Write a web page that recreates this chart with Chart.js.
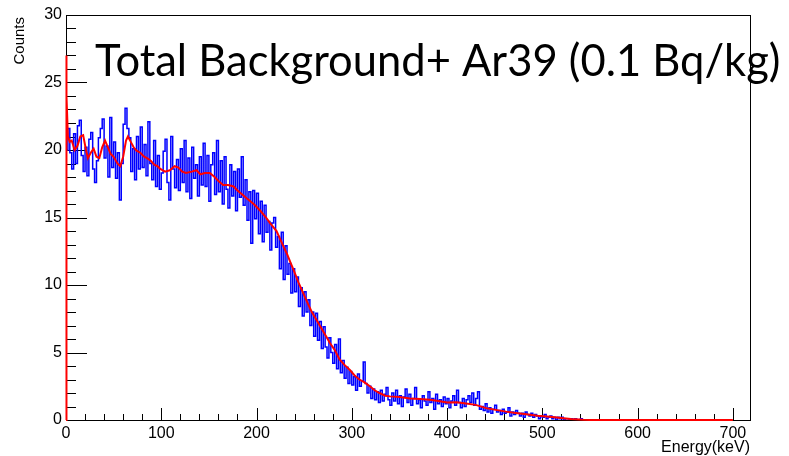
<!DOCTYPE html>
<html>
<head>
<meta charset="utf-8">
<script src="https://cdn.jsdelivr.net/npm/chart.js@4/dist/chart.umd.min.js"></script>
<style>
  html, body { margin: 0; padding: 0; background: #fff; }
</style>
</head>
<body>
<canvas id="spectrum" width="789" height="456"></canvas>
<script>
// histogram: 2 keV bins starting at 0 keV
const binWidth = 2;
const blueCounts = [
  24.1, 20.0, 21.6, 19.8, 18.6, 21.2, 19.0, 21.8, 22.2, 19.6,
  18.4, 20.2, 18.1, 20.8, 21.3, 18.6, 17.6, 19.2, 20.9, 21.6,
  22.3, 19.4, 20.3, 18.0, 22.4, 18.7, 20.6, 17.9, 19.8, 16.3,
  19.0, 21.9, 23.1, 21.6, 20.9, 18.4, 20.1, 17.8, 21.0, 18.6,
  21.7, 18.7, 20.4, 18.1, 22.1, 19.0, 17.8, 20.7, 17.3, 19.6,
  17.1, 18.3, 19.9, 20.8, 17.6, 16.3, 21.0, 18.6, 17.2, 19.3,
  17.0, 20.1, 17.6, 20.7, 16.9, 19.4, 16.4, 20.2, 17.9, 18.9,
  16.6, 19.5, 17.4, 20.5, 17.3, 19.6, 16.2, 18.9, 19.8, 16.7,
  20.7, 16.9, 19.2, 16.0, 19.5, 17.1, 15.7, 18.9, 16.6, 18.4,
  15.5, 18.6, 16.5, 19.5, 15.9, 17.8, 14.8, 16.9, 13.1, 17.0,
  14.9, 16.8, 13.8, 16.2, 13.2, 15.9, 13.9, 14.7, 12.6, 14.6,
  15.0, 12.8, 13.6, 11.2, 13.9, 10.4, 12.9, 10.8, 11.6, 9.4,
  11.2, 9.5, 10.6, 8.4, 9.8, 7.7, 9.5, 8.0, 8.9, 7.0,
  8.0, 6.2, 7.9, 5.9, 7.3, 5.3, 6.9, 5.4, 4.6, 6.1,
  5.0, 4.2, 5.6, 3.8, 6.0, 3.5, 4.4, 3.1, 3.9, 2.7,
  3.6, 2.6, 3.2, 2.2, 3.4, 2.5, 2.9, 4.3, 2.7, 2.0,
  2.5, 1.6, 2.3, 1.5, 2.1, 1.3, 2.2, 1.4, 1.9, 2.4,
  1.5, 1.1, 2.0, 1.4, 2.2, 1.2, 1.8, 1.0, 1.7, 2.3,
  1.3, 1.9, 1.1, 1.6, 2.4, 1.2, 1.5, 0.9, 1.8, 1.4,
  1.1, 2.1, 1.3, 1.6, 0.8, 1.9, 1.2, 1.5, 1.0, 1.7,
  1.2, 1.6, 0.9, 1.4, 1.8, 1.1, 2.2, 1.3, 0.9, 1.6,
  1.0, 1.5, 1.8, 1.3, 2.0, 1.1, 1.6, 2.1, 0.8, 1.0,
  0.7, 1.2, 0.6, 0.9, 0.5, 0.8, 1.1, 0.6, 0.7, 0.4,
  0.8, 0.5, 0.6, 0.9, 0.3, 0.6, 0.4, 0.7, 0.5, 0.3,
  0.5, 0.2, 0.6, 0.4, 0.3, 0.5, 0.2, 0.4, 0.3, 0.1,
  0.3, 0.2, 0.4, 0.1, 0.2, 0.3, 0.1, 0.2, 0.0, 0.2,
  0.1, 0.2, 0.0, 0.1, 0.1, 0.0, 0.1, 0.0, 0.1, 0.0,
  0.0, 0.1, 0.0, 0.0, 0.0, 0.0, 0.0, 0.0, 0.0, 0.0
];

// smoothed fit (red)
const fitEnergy = [0, 0, 1, 2, 4, 6, 9, 12, 15, 18, 21, 23, 26, 29, 32, 35, 38, 41, 44, 47,
  50, 54, 57, 60, 63, 65, 68, 71, 74, 78, 82, 85, 89, 93, 96, 99, 104, 109, 114, 118,
  122, 126, 132, 137, 141, 146, 151, 156, 160, 165, 170, 176, 180, 185, 190, 197, 204, 210, 214, 221,
  228, 232, 236, 239, 244, 249, 254, 258, 263, 268, 273, 277, 282, 287, 292, 298, 303, 308, 313, 319,
  324, 329, 335, 340, 350, 361, 372, 382, 391, 400, 410, 420, 430, 441, 451, 462, 472, 483, 495, 508,
  520, 530, 543, 550, 700];
const fitCounts = [0, 27, 24, 21, 20.6, 20.7, 20.0, 20.3, 21.0, 21.1, 20.0, 19.4, 19.8, 20.1, 19.5, 19.4, 20.2, 20.7, 20.2, 19.7,
  19.5, 19.0, 18.8, 19.5, 20.7, 21.0, 20.6, 20.2, 19.95, 19.8, 19.5, 19.4, 19.2, 18.9, 18.8, 18.6, 18.4, 18.5, 18.8, 18.7,
  18.4, 18.3, 18.4, 18.5, 18.2, 18.3, 18.3, 18.0, 17.7, 17.4, 17.4, 17.3, 17.0, 16.7, 16.4, 16.0, 15.5, 15.0, 14.6, 14.0,
  12.9, 12.3, 11.6, 11.1, 10.2, 9.4, 8.6, 8.0, 7.4, 6.8, 6.2, 5.7, 5.2, 4.5, 4.1, 3.7, 3.3, 3.0, 2.8, 2.5,
  2.2, 2.0, 1.8, 1.75, 1.7, 1.6, 1.55, 1.5, 1.4, 1.3, 1.32, 1.22, 1.12, 0.88, 0.75, 0.62, 0.52, 0.42, 0.32, 0.24,
  0.15, 0.08, 0.02, 0, 0];

const xMax = 718;
const yTicks = [0, 5, 10, 15, 20, 25, 30];

const histPoints = blueCounts.map((v, i) => ({ x: i * binWidth, y: v }));
histPoints.push({ x: blueCounts.length * binWidth, y: blueCounts[blueCounts.length - 1] });
const fitPoints = fitEnergy.map((e, i) => ({ x: e, y: fitCounts[i] }));

const rootStyle = {
    id: 'rootStyle',
    // frame + inward ticks go under the data, like ROOT
    beforeDatasetsDraw(chart) {
        const ctx = chart.ctx;
        const a = chart.chartArea;
        const xs = chart.scales.x, ys = chart.scales.y;
        ctx.save();
        ctx.strokeStyle = '#000';
        ctx.lineWidth = 1;
        ctx.strokeRect(Math.round(a.left) + 0.5, Math.round(a.top) + 0.5, Math.round(a.right - a.left), Math.round(a.bottom - a.top));

        ctx.beginPath();
        for (let v = 0; v <= xMax; v += 20) {
            const px = Math.round(xs.getPixelForValue(v)) + 0.5;
            const len = v % 100 === 0 ? 12 : 6;
            ctx.moveTo(px, a.bottom);
            ctx.lineTo(px, a.bottom - len);
        }
        for (let v = 0; v <= 30; v += 1) {
            const py = Math.round(ys.getPixelForValue(v)) + 0.5;
            const len = v % 5 === 0 ? 21 : 10;
            ctx.moveTo(a.left, py);
            ctx.lineTo(a.left + len, py);
        }
        ctx.stroke();
        ctx.restore();
    },
    afterDraw(chart) {
        const ctx = chart.ctx;
        const a = chart.chartArea;
        ctx.save();
        ctx.fillStyle = '#000';
        ctx.font = '16px "Liberation Sans", Arial, sans-serif';
        ctx.textAlign = 'right';
        ctx.textBaseline = 'alphabetic';
        ctx.fillText('Energy(keV)', a.right, 452);

        ctx.translate(24, 17);
        ctx.rotate(-Math.PI / 2);
        ctx.textAlign = 'right';
        ctx.font = '15px "Liberation Sans", Arial, sans-serif';
        ctx.fillText('Counts', 0, 0);
        ctx.restore();

        // big slide title
        ctx.save();
        const title = 'Total Background+ Ar39 (0.1 Bq/kg)';
        ctx.font = '44px Lato, "Open Sans", sans-serif';
        const w = ctx.measureText(title).width;
        const size = 44 * 685 / w;
        ctx.font = size.toFixed(1) + 'px Lato, "Open Sans", sans-serif';
        ctx.fillStyle = '#000';
        ctx.textBaseline = 'alphabetic';
        ctx.textAlign = 'left';
        ctx.fillText(title, 95, 76);
        ctx.restore();
    }
};

const ctx = document.getElementById('spectrum').getContext('2d');
new Chart(ctx, {
    type: 'line',
    data: {
        datasets: [
            {
                label: 'data',
                data: histPoints,
                borderColor: '#0000ff',
                borderWidth: 1.5,
                stepped: 'after',
                pointRadius: 0,
                fill: false,
                order: 1
            },
            {
                label: 'fit',
                data: fitPoints,
                borderColor: '#ff0000',
                borderWidth: 2,
                pointRadius: 0,
                tension: 0,
                fill: false,
                clip: false,
                order: 0
            }
        ]
    },
    options: {
        responsive: false,
        animation: false,
        events: [],
        layout: { padding: { top: 15, right: 39, left: 0, bottom: 0 } },
        plugins: { legend: { display: false }, tooltip: { enabled: false } },
        scales: {
            x: {
                type: 'linear',
                min: 0,
                max: xMax,
                grid: { display: false, drawTicks: false },
                border: { display: false },
                ticks: {
                    stepSize: 100,
                    includeBounds: false,
                    autoSkip: false,
                    maxRotation: 0,
                    padding: 4,
                    color: '#000',
                    font: { family: '"Liberation Sans", Arial, sans-serif', size: 16 }
                },
                afterFit: s => { s.height = 36; }
            },
            y: {
                min: 0,
                max: 30,
                grid: { display: false, drawTicks: false },
                border: { display: false },
                afterBuildTicks: s => { s.ticks = yTicks.map(v => ({ value: v })); },
                ticks: {
                    padding: 4,
                    color: '#000',
                    font: { family: '"Liberation Sans", Arial, sans-serif', size: 16 }
                },
                afterFit: s => { s.width = 66; }
            }
        }
    },
    plugins: [rootStyle]
});
</script>
</body>
</html>
